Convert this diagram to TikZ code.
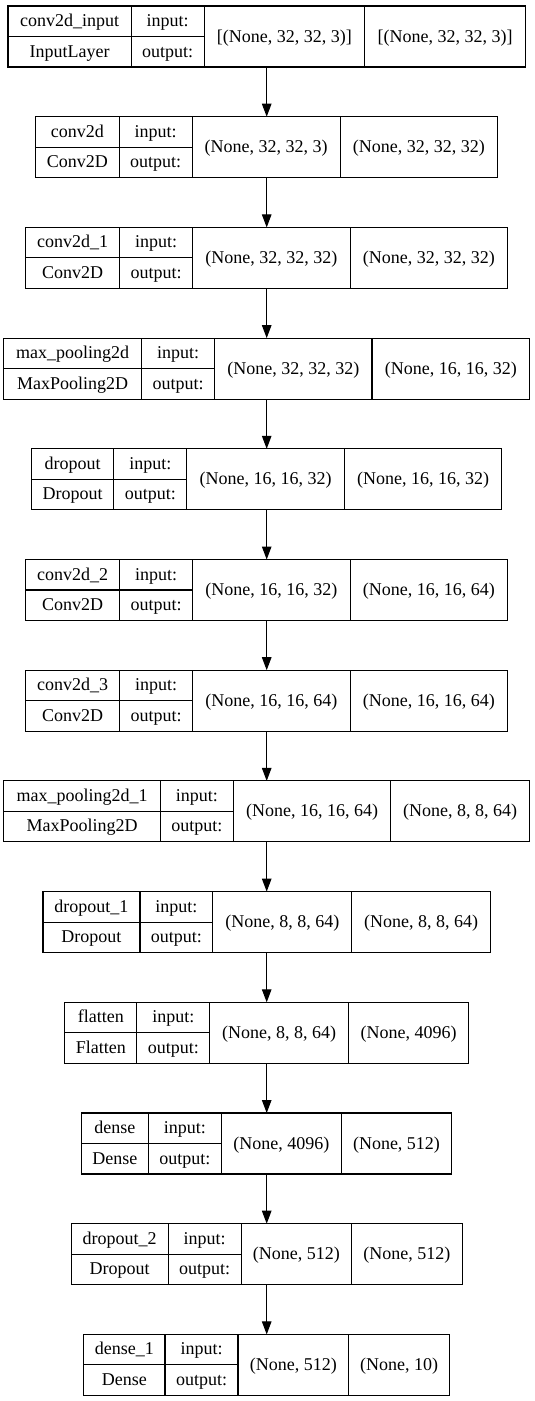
\documentclass[tikz,border=0pt]{standalone}
\usepackage{fontspec}
\setmainfont{Liberation Serif}
\usetikzlibrary{arrows.meta}
\newlength\wA
\newlength\wB
\newlength\wC
\newlength\wD
\newlength\tmpl
\newlength\tmpb
\newcommand\wfont{\fontsize{18.8}{22}\selectfont}
\newcommand\setw[3]{\pgfinterruptpicture\settowidth{\tmpl}{\wfont #2}\settowidth{\tmpb}{\wfont #3}\ifdim\tmpb>\tmpl \tmpl=\tmpb\fi\advance\tmpl by 19.7pt\global#1=\tmpl\endpgfinterruptpicture}
\tikzset{
  frame/.style={draw=black, line width=1.1pt, minimum height=61pt, inner sep=0pt, outer sep=0pt},
  cellline/.style={draw=black, line width=1.1pt},
  lbl/.style={font=\fontsize{18}{20}\selectfont, anchor=base, inner sep=0pt},
  arr/.style={draw=black, line width=1.1pt, -{Triangle[length=13pt,width=9.5pt]}}
}
\newcommand\lyr[5]{%
  \setw\wA{#2}{#3}%
  \setw\wB{input:}{output:}%
  \setw\wC{#4}{}%
  \setw\wD{#5}{}%
  \pgfmathsetmacro\lyT{6+110.7*#1}%
  \pgfmathsetmacro\lyW{\wA+\wB+\wC+\wD}%
  \pgfmathsetmacro\lyXa{266.7-\lyW/2}%
  \pgfmathsetmacro\lyXb{\lyXa+\wA}%
  \pgfmathsetmacro\lyXc{\lyXb+\wB}%
  \pgfmathsetmacro\lyXd{\lyXc+\wC}%
  \pgfmathsetmacro\lyXe{\lyXd+\wD}%
  \node[frame, minimum width=\lyW pt, anchor=north] (L#1) at (266.7,\lyT) {};
  \draw[cellline] (\lyXb,\lyT) -- (\lyXb,\lyT+61);
  \draw[cellline] (\lyXc,\lyT) -- (\lyXc,\lyT+61);
  \draw[cellline] (\lyXd,\lyT) -- (\lyXd,\lyT+61);
  \draw[cellline] (\lyXa,\lyT+30.5) -- (\lyXc,\lyT+30.5);
  \node[lbl] (L#1name) at ({(\lyXa+\lyXb)/2},\lyT+20.5) {#2};
  \node[lbl] (L#1class) at ({(\lyXa+\lyXb)/2},\lyT+51) {#3};
  \node[lbl] (L#1inlbl) at ({(\lyXb+\lyXc)/2},\lyT+20.5) {input:};
  \node[lbl] (L#1outlbl) at ({(\lyXb+\lyXc)/2},\lyT+51) {output:};
  \node[lbl] (L#1in) at ({(\lyXc+\lyXd)/2},\lyT+36) {#4};
  \node[lbl] (L#1out) at ({(\lyXd+\lyXe)/2},\lyT+36) {#5};
}
\begin{document}
\begin{tikzpicture}[x=1pt,y=-1pt]
\useasboundingbox (0,0) rectangle (535,1401);
\lyr{0}{conv2d\_input}{InputLayer}{[(None, 32, 32, 3)]}{[(None, 32, 32, 3)]}
\lyr{1}{conv2d}{Conv2D}{(None, 32, 32, 3)}{(None, 32, 32, 32)}
\lyr{2}{conv2d\_1}{Conv2D}{(None, 32, 32, 32)}{(None, 32, 32, 32)}
\lyr{3}{max\_pooling2d}{MaxPooling2D}{(None, 32, 32, 32)}{(None, 16, 16, 32)}
\lyr{4}{dropout}{Dropout}{(None, 16, 16, 32)}{(None, 16, 16, 32)}
\lyr{5}{conv2d\_2}{Conv2D}{(None, 16, 16, 32)}{(None, 16, 16, 64)}
\lyr{6}{conv2d\_3}{Conv2D}{(None, 16, 16, 64)}{(None, 16, 16, 64)}
\lyr{7}{max\_pooling2d\_1}{MaxPooling2D}{(None, 16, 16, 64)}{(None, 8, 8, 64)}
\lyr{8}{dropout\_1}{Dropout}{(None, 8, 8, 64)}{(None, 8, 8, 64)}
\lyr{9}{flatten}{Flatten}{(None, 8, 8, 64)}{(None, 4096)}
\lyr{10}{dense}{Dense}{(None, 4096)}{(None, 512)}
\lyr{11}{dropout\_2}{Dropout}{(None, 512)}{(None, 512)}
\lyr{12}{dense\_1}{Dense}{(None, 512)}{(None, 10)}
\draw[arr] (L0.south) -- (L1.north);
\draw[arr] (L1.south) -- (L2.north);
\draw[arr] (L2.south) -- (L3.north);
\draw[arr] (L3.south) -- (L4.north);
\draw[arr] (L4.south) -- (L5.north);
\draw[arr] (L5.south) -- (L6.north);
\draw[arr] (L6.south) -- (L7.north);
\draw[arr] (L7.south) -- (L8.north);
\draw[arr] (L8.south) -- (L9.north);
\draw[arr] (L9.south) -- (L10.north);
\draw[arr] (L10.south) -- (L11.north);
\draw[arr] (L11.south) -- (L12.north);
\end{tikzpicture}
\end{document}
